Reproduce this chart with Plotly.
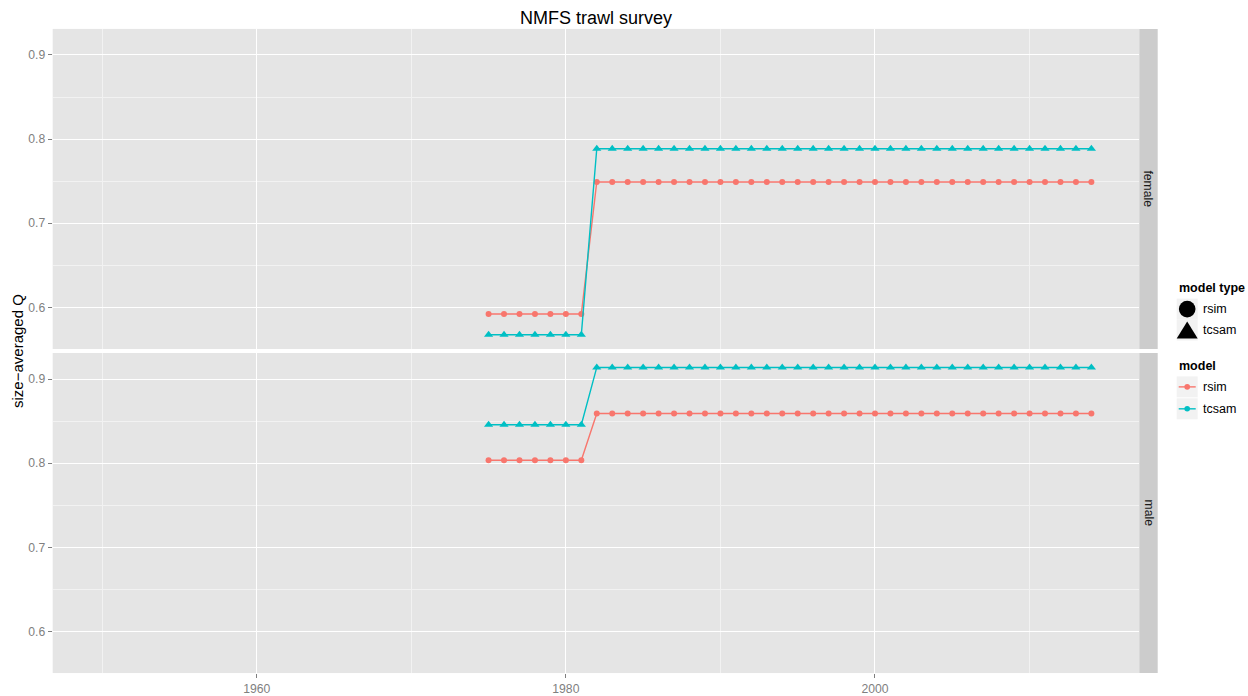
import plotly.graph_objects as go

# ---- data -------------------------------------------------------------
years = list(range(1975, 2015))

female_rsim = [
    0.592, 0.592, 0.592, 0.592, 0.592, 0.592, 0.592,
    0.749, 0.749, 0.749, 0.749, 0.749, 0.749, 0.749, 0.749, 0.749, 0.749,
    0.749, 0.749, 0.749, 0.749, 0.749, 0.749, 0.749, 0.749, 0.749, 0.749,
    0.749, 0.749, 0.749, 0.749, 0.749, 0.749, 0.749, 0.749, 0.749, 0.749,
    0.749, 0.749, 0.749,
]
female_tcsam = [
    0.5674, 0.5674, 0.5674, 0.5674, 0.5674, 0.5674, 0.5674,
    0.7886, 0.7886, 0.7886, 0.7886, 0.7886, 0.7886, 0.7886, 0.7886, 0.7886, 0.7886,
    0.7886, 0.7886, 0.7886, 0.7886, 0.7886, 0.7886, 0.7886, 0.7886, 0.7886, 0.7886,
    0.7886, 0.7886, 0.7886, 0.7886, 0.7886, 0.7886, 0.7886, 0.7886, 0.7886, 0.7886,
    0.7886, 0.7886, 0.7886,
]
male_rsim = [
    0.8035, 0.8035, 0.8035, 0.8035, 0.8035, 0.8035, 0.8035,
    0.859, 0.859, 0.859, 0.859, 0.859, 0.859, 0.859, 0.859, 0.859, 0.859,
    0.859, 0.859, 0.859, 0.859, 0.859, 0.859, 0.859, 0.859, 0.859, 0.859,
    0.859, 0.859, 0.859, 0.859, 0.859, 0.859, 0.859, 0.859, 0.859, 0.859,
    0.859, 0.859, 0.859,
]
male_tcsam = [
    0.8456, 0.8456, 0.8456, 0.8456, 0.8456, 0.8456, 0.8456,
    0.9138, 0.9138, 0.9138, 0.9138, 0.9138, 0.9138, 0.9138, 0.9138, 0.9138, 0.9138,
    0.9138, 0.9138, 0.9138, 0.9138, 0.9138, 0.9138, 0.9138, 0.9138, 0.9138, 0.9138,
    0.9138, 0.9138, 0.9138, 0.9138, 0.9138, 0.9138, 0.9138, 0.9138, 0.9138, 0.9138,
    0.9138, 0.9138, 0.9138,
]

panels = ["female", "male"]
models = ["rsim", "tcsam"]
x_ticks = [1960, 1980, 2000]
y_ticks = [0.6, 0.7, 0.8, 0.9]

# ---- styling ----------------------------------------------------------
W, H = 1248, 696
FONT = "Liberation Sans, Arial, Helvetica, sans-serif"
COLORS = {"rsim": "#F8766D", "tcsam": "#00BFC4"}
SYMBOLS = {"rsim": "circle", "tcsam": "triangle-up"}
SIZES = {"rsim": 6, "tcsam": 8}
PANEL_BG = "#E5E5E5"
STRIP_BG = "#CCCCCC"
TICK_GREY = "#7F7F7F"


def px_x(p):
    return p / W


def px_y(p):
    return 1 - p / H


panel_left, panel_right = 52.7, 1139.3
strip_right = 1157.7
panel_rows = [(29, 350), (354, 675)]

series = {
    ("female", "rsim"): female_rsim,
    ("female", "tcsam"): female_tcsam,
    ("male", "rsim"): male_rsim,
    ("male", "tcsam"): male_tcsam,
}

fig = go.Figure()

for i, panel in enumerate(panels):
    xa = "x" if i == 0 else "x2"
    ya = "y" if i == 0 else "y2"
    for m in models:
        fig.add_trace(go.Scatter(
            x=years, y=series[(panel, m)],
            mode="lines+markers",
            line=dict(color=COLORS[m], width=1.4),
            marker=dict(color=COLORS[m], symbol=SYMBOLS[m], size=SIZES[m],
                        line=dict(width=0)),
            xaxis=xa, yaxis=ya, showlegend=False, name=m,
        ))

x_range = [1946.8, 2017.1]
y_range = [0.5504, 0.9310]

x_common = dict(
    range=x_range, domain=[px_x(panel_left), px_x(panel_right)],
    tickmode="array", tickvals=x_ticks, ticktext=[str(v) for v in x_ticks],
    showgrid=True, gridcolor="white", gridwidth=1.2,
    minor=dict(tickmode="array", tickvals=[1950, 1970, 1990, 2010],
               showgrid=True, gridcolor="#F2F2F2", gridwidth=0.6),
    zeroline=False, showline=False, fixedrange=True,
    tickfont=dict(family=FONT, size=12.2, color=TICK_GREY),
)
y_common = dict(
    range=y_range,
    tickmode="array", tickvals=y_ticks, ticktext=[str(v) for v in y_ticks],
    showgrid=True, gridcolor="white", gridwidth=1.2,
    minor=dict(tickmode="array", tickvals=[0.65, 0.75, 0.85],
               showgrid=True, gridcolor="#F2F2F2", gridwidth=0.6),
    zeroline=False, showline=False, fixedrange=True,
    ticks="outside", ticklen=4, tickwidth=1, tickcolor=TICK_GREY,
    tickfont=dict(family=FONT, size=12.2, color=TICK_GREY),
)

(t0, b0), (t1, b1) = panel_rows
fig.update_layout(
    width=W, height=H, autosize=False,
    margin=dict(l=0, r=0, t=0, b=0),
    paper_bgcolor="white", plot_bgcolor=PANEL_BG,
    font=dict(family=FONT),
    showlegend=False,
    xaxis=dict(**x_common, anchor="y", showticklabels=False, ticks=""),
    xaxis2=dict(**x_common, anchor="y2", showticklabels=True,
                ticks="outside", ticklen=4, tickwidth=1, tickcolor=TICK_GREY),
    yaxis=dict(**y_common, anchor="x", domain=[px_y(b0), px_y(t0)]),
    yaxis2=dict(**y_common, anchor="x2", domain=[px_y(b1), px_y(t1)]),
)

shapes = []
annotations = []

# facet strips on the right of each panel
for panel, (top, bot) in zip(panels, panel_rows):
    shapes.append(dict(type="rect", xref="paper", yref="paper",
                       x0=px_x(panel_right), x1=px_x(strip_right),
                       y0=px_y(bot), y1=px_y(top),
                       fillcolor=STRIP_BG, line=dict(width=0), layer="below"))
    annotations.append(dict(xref="paper", yref="paper",
                            x=px_x((panel_right + strip_right) / 2),
                            y=px_y((top + bot) / 2),
                            text=panel, showarrow=False, textangle=90,
                            font=dict(family=FONT, size=12.2, color="#1A1A1A"),
                            xanchor="center", yanchor="middle"))

# title and y-axis title
annotations.append(dict(xref="paper", yref="paper",
                        x=px_x((panel_left + panel_right) / 2), y=px_y(18),
                        text="NMFS trawl survey", showarrow=False,
                        font=dict(family=FONT, size=18, color="black"),
                        xanchor="center", yanchor="middle"))
annotations.append(dict(xref="paper", yref="paper",
                        x=px_x(18), y=px_y(352),
                        text="size\u2212averaged Q", showarrow=False, textangle=-90,
                        font=dict(family=FONT, size=15, color="black"),
                        xanchor="center", yanchor="middle"))

# legends: "model type" (shape) and "model" (colour)
key_x0, key_x1 = 1176.7, 1197.7
leg_font = dict(family=FONT, size=12.5, color="black")


def key_box(cy):
    shapes.append(dict(type="rect", xref="paper", yref="paper",
                       x0=px_x(key_x0), x1=px_x(key_x1),
                       y0=px_y(cy + 10.5), y1=px_y(cy - 10.5),
                       fillcolor="#F2F2F2", line=dict(width=0)))


annotations.append(dict(xref="paper", yref="paper", x=px_x(key_x0), y=px_y(289),
                        text="<b>model type</b>", showarrow=False,
                        font=leg_font, xanchor="left", yanchor="middle"))
# circle key
cy = 310
key_box(cy)
r = 8.3
cx = (key_x0 + key_x1) / 2
shapes.append(dict(type="circle", xref="paper", yref="paper",
                   x0=px_x(cx - r), x1=px_x(cx + r),
                   y0=px_y(cy + r), y1=px_y(cy - r),
                   fillcolor="black", line=dict(width=0)))
annotations.append(dict(xref="paper", yref="paper", x=px_x(1201), y=px_y(cy),
                        text="rsim", showarrow=False, font=leg_font,
                        xanchor="left", yanchor="middle"))
# triangle key
cy = 331
key_box(cy)
tri = "M {a},{b} L {c},{b} L {d},{e} Z".format(
    a=px_x(cx - 10.5), b=px_y(cy + 8.5), c=px_x(cx + 10.5),
    d=px_x(cx), e=px_y(cy - 8.5))
shapes.append(dict(type="path", xref="paper", yref="paper", path=tri,
                   fillcolor="black", line=dict(width=0)))
annotations.append(dict(xref="paper", yref="paper", x=px_x(1201), y=px_y(cy),
                        text="tcsam", showarrow=False, font=leg_font,
                        xanchor="left", yanchor="middle"))

annotations.append(dict(xref="paper", yref="paper", x=px_x(key_x0), y=px_y(367.5),
                        text="<b>model</b>", showarrow=False,
                        font=leg_font, xanchor="left", yanchor="middle"))
for m, cy in zip(models, [388, 410]):
    key_box(cy)
    shapes.append(dict(type="line", xref="paper", yref="paper",
                       x0=px_x(key_x0 + 2), x1=px_x(key_x1 - 2),
                       y0=px_y(cy), y1=px_y(cy),
                       line=dict(color=COLORS[m], width=1.4)))
    shapes.append(dict(type="circle", xref="paper", yref="paper",
                       x0=px_x(cx - 2.8), x1=px_x(cx + 2.8),
                       y0=px_y(cy + 2.8), y1=px_y(cy - 2.8),
                       fillcolor=COLORS[m], line=dict(width=0)))
    annotations.append(dict(xref="paper", yref="paper", x=px_x(1201), y=px_y(cy),
                            text=m, showarrow=False, font=leg_font,
                            xanchor="left", yanchor="middle"))

fig.update_layout(shapes=shapes, annotations=annotations)

fig.write_html("out.html", config={"displayModeBar": False})
